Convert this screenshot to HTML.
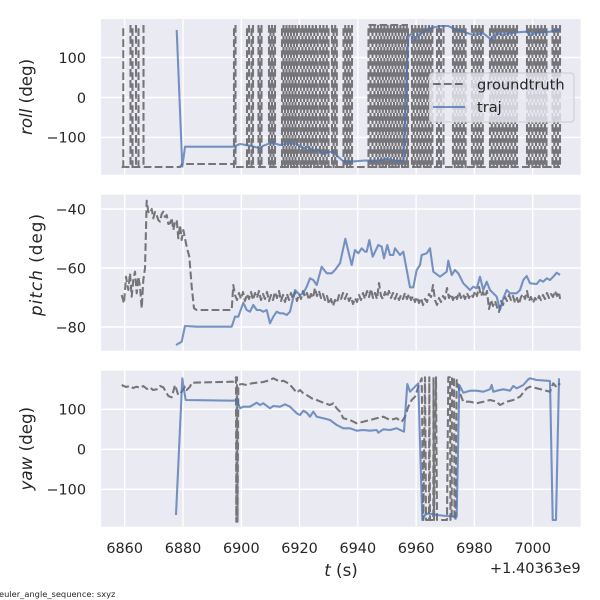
<!DOCTYPE html>
<html><head><meta charset="utf-8"><style>html,body{margin:0;padding:0;background:#fff}svg{display:block}</style></head>
<body>
<svg width="600" height="600" viewBox="0 0 600 600" xmlns="http://www.w3.org/2000/svg" font-family="'DejaVu Sans','Liberation Sans',sans-serif">
<rect width="600" height="600" fill="#fff"/>
<rect x="101" y="19" width="479.7" height="155.7" fill="#EAEAF2"/>
<rect x="101" y="194.7" width="479.7" height="156" fill="#EAEAF2"/>
<rect x="101" y="370.7" width="479.7" height="156" fill="#EAEAF2"/>
<g stroke="#fff" stroke-width="1.4" fill="none">
<path d="M124.7,19V174.7M183,19V174.7M241.3,19V174.7M299.5,19V174.7M357.8,19V174.7M416.1,19V174.7M474.4,19V174.7M532.7,19V174.7M101,57.5H580.7M101,97.5H580.7M101,137.4H580.7"/>
<path d="M124.7,194.7V350.7M183,194.7V350.7M241.3,194.7V350.7M299.5,194.7V350.7M357.8,194.7V350.7M416.1,194.7V350.7M474.4,194.7V350.7M532.7,194.7V350.7M101,209H580.7M101,268H580.7M101,327H580.7"/>
<path d="M124.7,370.7V526.7M183,370.7V526.7M241.3,370.7V526.7M299.5,370.7V526.7M357.8,370.7V526.7M416.1,370.7V526.7M474.4,370.7V526.7M532.7,370.7V526.7M101,409.3H580.7M101,449.3H580.7M101,489.3H580.7"/>
</g>

<!-- ROLL groundtruth -->
<path fill="none" stroke="#000" stroke-opacity="0.5" stroke-width="2.08" stroke-dasharray="7.7 3.3" d="M121.7,167H180L182.3,164H234M236,167H560M368.5,25H408
M123.3,168V25M130.5,25V168M132.5,168V25M136,25V168M138.5,168V25M143.5,25V168
M234,168V25M235.5,25V168M247,168V25M249,25V168M251.5,168V25M253,25V168M258.5,25V168M260,168V25M261.5,25V168
M269,25V168M270.5,168V25M272,25V168M273.5,168V25M275,25V168
M282,168V25M283.5,25V168M285,168V25M286.5,25V168M288,168V25M289.5,25V168M291,168V25M292.5,25V168M294,168V25M295.5,25V168M297,168V25
M299,25V168M300.7,168V25M302.4,25V168M304.1,168V25M305.8,25V168M307.5,168V25M309.2,25V168M310.9,168V25M312.6,25V168M314.3,168V25M316,25V168M317.7,168V25
M320,25V168M321.7,168V25M323.4,25V168M325.1,168V25M326.8,25V168M328.5,168V25M332,25V168M333.6,168V25M335.2,25V168M336.8,168V25
M343.5,168V25M345.2,25V168M346.9,168V25M348.6,25V168M350.3,168V25M352,25V168
M368.5,168V25M370.5,25V168M372.5,168V25M374.5,25V168M376.3,168V25M378,25V168M379.6,168V25M381.2,25V168M382.8,168V25M384.4,25V168M386,168V25M387.6,25V168M389.2,168V25M390.8,25V168M392.4,168V25M394,25V168M395.6,168V25M397.2,25V168M398.8,168V25M400.4,25V168M402,168V25M403.6,25V168M405.2,168V25M406.8,25V168M408,168V25
M412,25V168M413.7,168V25M415.4,25V168M417.1,168V25M418.8,25V168M420.5,168V25M422.2,25V168M423.9,168V25M425.6,25V168M427.3,168V25M429,25V168M430.7,168V25M432.4,25V168
M437,168V25M439,25V168M441,168V25M443.5,25V168
M453,25V168M454.8,168V25M456.6,25V168M458.4,168V25M460.2,25V168M462,168V25M463.8,25V168M465.6,168V25
M472,25V168M473.8,168V25M475.6,25V168M477.4,168V25M479.2,25V168M481,168V25M482.8,25V168
M490,168V25M491.8,25V168M493.6,168V25M495.4,25V168M497.2,168V25M499,25V168M500.8,168V25M502.6,25V168M504.4,168V25M506.2,25V168M508,168V25M509.8,25V168M511.6,168V25M513.4,25V168M515.2,168V25M517,25V168
M527,25V168M528.8,168V25M530.6,25V168M532.4,168V25M534.2,25V168M536,168V25M537.8,25V168M539.6,168V25M541.4,25V168M543.2,168V25M545,25V168M546.5,168V25
M552.5,25V168M554.3,168V25M556.1,25V168M557.9,168V25M560,25V168"/>
<polyline fill="none" stroke="#4C72B0" stroke-opacity="0.75" stroke-width="2.08" stroke-linejoin="round" points="176.7,30 182.3,166.7 185,146.7 233.3,146.7 240,144 250,145.7 260,148.3 263.3,145.7 271.7,142.7 280,145 288,143.5 296.7,144 303,148.3 308,147 313,150.7 318,149.5 323,154 328,152 333,151.7 338,156.7 343,161 350,161.7 365,160.5 376.7,160.7 386.7,159 395,160.5 403.3,161 408.3,36.7 411.7,33.3 415,40 418.3,35 430,28.3 440,26 448.3,26 456.7,30 463.3,31.7 473.3,35 483.3,33.3 491.7,40 496.7,33.3 503.3,35 510,33.3 516.7,32.3 526.7,31.7 530,35 536.7,32.7 550,31.7 560,30"/>

<!-- PITCH groundtruth -->
<polyline fill="none" stroke="#000" stroke-opacity="0.5" stroke-width="2.08" stroke-dasharray="7.7 3.3" stroke-linejoin="round" points="121.7,295 124,303.3 126,276.7 128.3,290 130,273.3 131.7,296.7 133.3,280 135,271.7 136.7,293.3 138.3,276.7 140,286.7 141.7,308.3 143.3,280 145,268.3 146.7,200.7 148.3,211.7 150,213.3 151.7,209 153.3,218.3 155,212 156.7,215 158.3,220 160,221.7 161.7,214 163.3,211.7 165,217 166.7,215 168.3,224 170,223.3 171.7,218 173.3,230 175,222 176.7,220 178.3,238.3 180,225 181.7,240 183.3,230 185,238.3 186.7,246.7 189.3,256.7 191.7,286.7 194,308.3 196.7,310 231.7,310 233.3,285 235,295 237,300 239,293 241,299 243,292 245,301 247,294 249,299 251,292 253,300 255,293 257,298 259,291 261,300 263,294 265,299 267,292 269,301 271,295 273,300 275,292 277,298 279,291 281,301 283,295 285,302 287,294 289,300 291,293 293,299 295,292 297,301 299,294 301,299 303,291 305,297 307,293 309,300 311,294 313,298 315,288 317,296 319,291 321,298 323,294 325,300 327,296 329,304 331,299 333,306 335,300 337,303 339,295 341,299 343,293 345,299 347,294 349,301 351,297 353,304 355,298 357,302 359,295 361,300 363,293 365,299 367,291 369,297 371,289 373,298 375,293 377,299 379,283 381,296 383,299 385,292 387,297 389,291 391,298 393,293 395,299 397,294 399,300 401,295 403,299 405,293 407,299 409,294 411,300 413,296 415,302 417,297 419,303 421,298 423,305 425,299 427,302 429,294 431,297 433,285 435,300 437,305 439,298 441,302 443,296 445,299 447,288 449,298 451,294 453,300 455,295 457,299 459,292 461,298 463,294 465,299 467,293 469,298 471,294 473,297 475,291 477,296 479,287 481,296 483,292 485,297 487,291 489,309 491,300 493,306 495,301 497,307 499,312 501,301 503,305 505,297 507,301 509,295 511,300 513,296 515,303 517,298 519,304 521,297 523,294 525,299 527,291 529,301 531,297 533,303 535,298 537,301 539,296 541,300 543,295 545,299 547,293 549,298 551,294 553,297 555,291 557,296 559,292 560,299"/>
<polyline fill="none" stroke="#4C72B0" stroke-opacity="0.75" stroke-width="2.08" stroke-linejoin="round" points="176,345 181.7,341.7 185,326 196.7,326.7 231.7,326.7 235,316.7 238.3,316.7 243.3,302.7 246.7,310 250,311.7 253.3,305 256.7,310 260,310 263.3,311.7 266.7,310 270,323.3 273.3,316.7 276.7,311.7 280,313.3 283.3,313.3 286.7,315 290,311.7 295,290 300,295 303.3,293.3 306.7,286.7 310,278.3 313.3,280 316.7,285 321.7,266.7 326.7,273.3 331.7,273.3 335,270 340,263.3 345.3,238.8 351.7,265 355,250 358.3,253.3 361.7,248.3 365,251.7 366.7,251.7 369.3,240 372.7,256.7 378.3,245 381.7,246.7 384,258.3 387.3,245 390,255 393.3,255 395,248.3 400,255 403.3,251.7 410,287.3 413.3,287.3 416.7,270 420,265 421.7,255 426.7,253.3 430,248.3 433.3,271.7 440,276.7 446.7,271.7 448.3,260.7 451.7,275 455,270 458.3,273.3 463.3,283.3 470,290 473.3,286.7 476.7,288.3 480,276.7 483.3,290 486.7,281.7 490,290 493.3,293.3 496.7,296.7 500,310 503.3,298.3 506.7,290 510,293.3 516.7,293.3 520,290 523.3,280 526.7,276 530,283.3 536.7,284 540,280 543.3,281.7 546.7,278.3 550,280 553.3,276.7 556.7,272.7 560,275"/>

<!-- YAW groundtruth -->
<polyline fill="none" stroke="#000" stroke-opacity="0.5" stroke-width="2.08" stroke-dasharray="7.7 3.3" stroke-linejoin="round" points="121.7,385 126,387 130,386 133,388 136.7,386.7 140,388 143.3,386 147,389 150,387.3 153,390 156.7,389.3 160,386 163.3,387.3 168.3,396 171.7,397.3 175,385 178.3,395 181.7,391.7 185,386.7 186.7,390 190,386.7 191.7,382.7 233.3,381.7 236,377.3 236.3,521.7 237,377.3 237.5,521.7 238.3,385 241.7,384 246.7,385 251.7,383.3 256.7,382.7 263.3,382 270,380 273.3,378.3 280,381.7 283.3,380.7 288.3,383.3 291.7,386.7 296.7,392.7 300,390 303.3,393.3 306.7,395 311.7,398.3 316.7,400 323.3,402.7 330,405 333.3,403.3 336.7,408.3 340,411.7 343.3,418.3 350,420 356.7,423.3 363.3,421.7 370,420 376.7,418.3 383.3,416.7 390,420 396.7,418.3 401.7,421.7 405,416.7 408.3,406.7 411.7,400 415,396.7 418.3,386.7 421.7,378.3 423.3,520 425,377.3 426,520 429,520 429.3,377.3 430,520 433.3,520 433.5,377.3 434,520 436,377.3 437,520 447,520 448.3,377.3 450,377.3 450.5,520 451.7,520 452,377.3 454,377.3 454.5,520 455.5,520 456.7,380 460,393.3 463.3,401.7 470,401.7 476.7,403.3 483.3,401.7 490,400 496.7,401.7 500,405 506.7,401.7 513.3,400 520,396.7 526.7,388.3 530,386.7 536.7,388.3 543.3,390 550,391.7 553.3,383.3 556.7,387.3 560,383.3"/>
<polyline fill="none" stroke="#4C72B0" stroke-opacity="0.75" stroke-width="2.08" stroke-linejoin="round" points="176,515 182.3,378.3 184,390 185.7,400 233.3,400.7 236.7,400 240,408.3 243.3,406.7 250,406.7 256.7,402.7 260,405 263.3,403.3 270,408.3 273.3,406 280,406.7 285,404.3 290,406.7 296.7,413.3 300,415 303.3,410.7 306.7,412.7 310,416.7 313.3,411.7 316.7,416.7 323.3,418.3 330,420 336.7,425 343.3,428.3 350,428.3 356.7,430.7 363.3,430 370,430.7 376.7,430 378.3,432.7 383.3,429.3 390,430 396.7,428.3 401.7,430.7 404,431.7 407.3,384 410,391.7 415,386.7 418.3,383.3 422.3,520 425,515 428.3,513.3 436.7,515 446.7,516 456.7,516.7 459.3,385 463.3,392.7 470,390.7 476.7,390.7 483.3,391.7 490,389.3 491.7,385 493.3,391.7 496.7,390.7 503.3,389.3 510,390.7 513.3,386 516.7,388.3 520,386.7 523.3,385 528.3,379.3 530,378.3 536.7,380 546.7,380.7 550,381 552.7,520 556,520 559,378.3"/>

<!-- legend -->
<rect x="429.5" y="73" width="144.5" height="49" rx="3" fill="#EAEAF2" fill-opacity="0.8" stroke="#cccccc" stroke-width="1"/>
<path d="M433,84H465" stroke="#000" stroke-opacity="0.5" stroke-width="2.08" stroke-dasharray="7.7 3.3" fill="none"/>
<path d="M433,107H465" stroke="#4C72B0" stroke-opacity="0.75" stroke-width="2.08" fill="none"/>
<g font-size="14.6" fill="#262626">
<text x="477" y="89.3">groundtruth</text>
<text x="477" y="112">traj</text>
</g>

<g font-size="14.4" fill="#262626" text-anchor="end">
<text x="86" y="62.8">100</text>
<text x="86" y="102.8">0</text>
<text x="86" y="142.7">−100</text>
<text x="86" y="214.3">−40</text>
<text x="86" y="273.3">−60</text>
<text x="86" y="332.3">−80</text>
<text x="86" y="414.6">100</text>
<text x="86" y="454.6">0</text>
<text x="86" y="494.6">−100</text>
</g>
<g font-size="14.4" fill="#262626" text-anchor="middle">
<text x="124.7" y="553">6860</text>
<text x="183" y="553">6880</text>
<text x="241.3" y="553">6900</text>
<text x="299.5" y="553">6920</text>
<text x="357.8" y="553">6940</text>
<text x="416.1" y="553">6960</text>
<text x="474.4" y="553">6980</text>
<text x="532.7" y="553">7000</text>
</g>
<text x="580.7" y="573" font-size="14.6" fill="#262626" text-anchor="end">+1.40363e9</text>

<g font-size="16.7" fill="#262626" text-anchor="middle">
<text transform="translate(32,96.9) rotate(-90)"><tspan font-style="italic">roll</tspan> (deg)</text>
<text transform="translate(42,265) rotate(-90)" textLength="102" lengthAdjust="spacing"><tspan font-style="italic">pitch</tspan> (deg)</text>
<text transform="translate(32,448.7) rotate(-90)"><tspan font-style="italic">yaw</tspan> (deg)</text>
<text x="341" y="576"><tspan font-style="italic">t</tspan> (s)</text>
</g>
<text x="-1" y="597" font-size="8.3" fill="#262626">euler_angle_sequence: sxyz</text>
</svg>
</body></html>
